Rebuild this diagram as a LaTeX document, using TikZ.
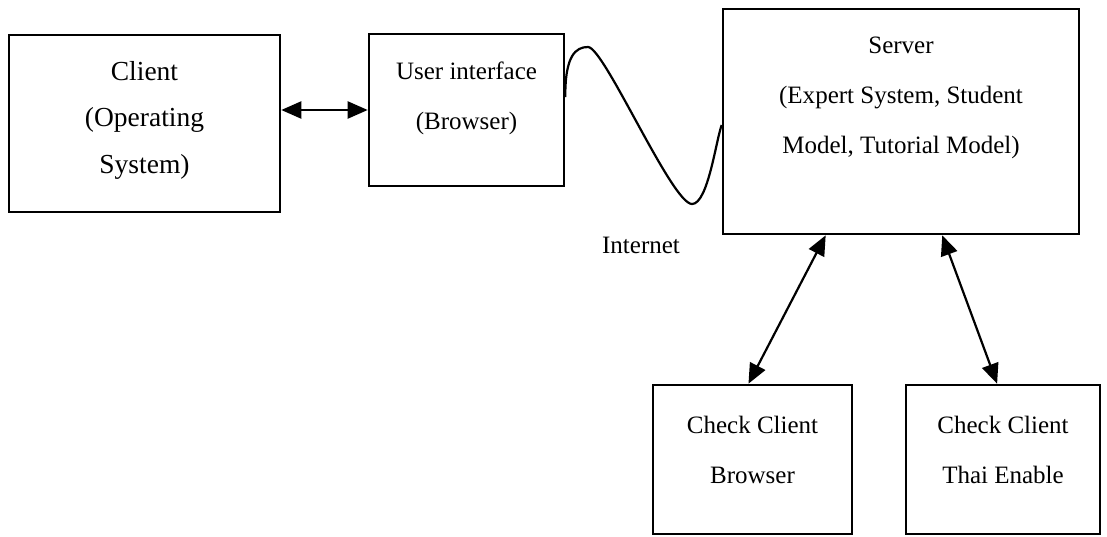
\documentclass[tikz,border=0pt]{standalone}
\usepackage{fontspec}
\setmainfont{Liberation Serif}
\usetikzlibrary{arrows.meta,calc}
\begin{document}
\begin{tikzpicture}[x=1pt,y=-1pt,
  box/.style={draw,line width=2.6pt,inner sep=0pt,rectangle},
  lbl/.style={align=center,inner sep=0pt,font=\fontsize{25}{50}\selectfont},
  big/.style={align=center,inner sep=0pt,font=\fontsize{27.5}{46.5}\selectfont},
  conn/.style={{Triangle[length=20pt,width=17pt]}-{Triangle[length=20pt,width=17pt]},line width=2.2pt},
  wave/.style={line width=2.2pt}]
\useasboundingbox (0,0) rectangle (1107,536);
\node[box,minimum width=271pt,minimum height=177pt] (client) at (144.5,123.5) {};
\node[box,minimum width=195pt,minimum height=152pt] (ui) at (466.5,110) {};
\node[box,minimum width=356pt,minimum height=225pt] (server) at (901,121.5) {};
\node[box,minimum width=199pt,minimum height=149pt] (ccb) at (752.5,459.5) {};
\node[box,minimum width=194pt,minimum height=149pt] (cct) at (1003,459.5) {};
\node[big] (clientlbl) at ($(client.center)+(0,-3.5)$) {Client\\(Operating\\System)};
\node[lbl] (uilbl) at ($(ui.center)+(0,-12)$) {User interface\\(Browser)};
\node[lbl] (serverlbl) at ($(server.center)+(0,-23.5)$) {Server\\(Expert System, Student\\Model, Tutorial Model)};
\node[lbl] (ccblbl) at ($(ccb.center)+(0,-10)$) {Check Client\\Browser};
\node[lbl] (cctlbl) at ($(cct.center)+(0,-10)$) {Check Client\\Thai Enable};
\node[lbl] (inet) at (641,245) {Internet};
\draw[conn] (client.east |- ui.west) -- (ui.west);
\draw[conn] ($(server.south west)!0.29!(server.south east)$) -- ($(ccb.north west)!0.48!(ccb.north east)$);
\draw[conn] ($(server.south west)!0.615!(server.south east)$) -- ($(cct.north west)!0.47!(cct.north east)$);
\coordinate (peak) at (588,47);
\coordinate (trough) at (692,204);
\draw[wave] ([yshift=13pt]ui.east) .. controls (565,55) and (576,47) .. (peak)
  .. controls (604,47) and (672,204) .. (trough)
  .. controls (708,204) and (716,140) .. ([yshift=-3.5pt]server.west);
\end{tikzpicture}
\end{document}
